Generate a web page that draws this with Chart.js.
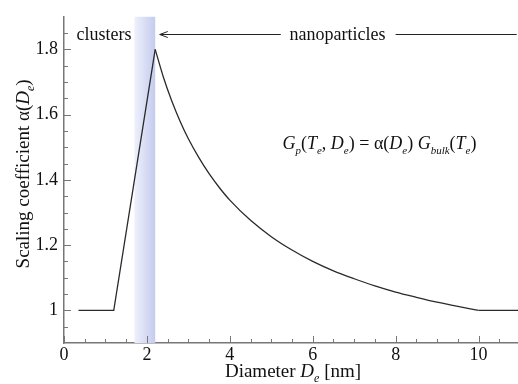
<!DOCTYPE html>
<html>
<head>
<meta charset="utf-8">
<script src="https://cdn.jsdelivr.net/npm/chart.js@4"></script>
<style>
  html, body { margin: 0; padding: 0; background: #fff; overflow: hidden; }
  #wrap { width: 522px; height: 384px; }
</style>
</head>
<body>
<div id="wrap"><canvas id="chart"></canvas></div>
<script>
// ticks
const xTicks = [0, 2, 4, 6, 8, 10];
const yTicks = [1, 1.2, 1.4, 1.6, 1.8];

// clusters part: flat then linear rise
const riseX = [0.35, 1.2, 2.2];
const riseY = [1, 1, 1.8];

// nanoparticles part: decay
const decayX = [2.2, 2.4, 2.6, 2.8, 3.0, 3.25, 3.5, 3.75, 4.0, 4.5, 5.0, 5.5, 6.0, 6.5, 7.0, 7.5, 8.0, 8.5, 9.0, 9.5, 10.0];
const decayY = [1.800, 1.714, 1.642, 1.580, 1.526, 1.469, 1.419, 1.376, 1.338, 1.276, 1.226, 1.185, 1.150, 1.121, 1.097, 1.075, 1.056, 1.040, 1.025, 1.012, 1.0];

// flat tail
const tailX = [10, 11];
const tailY = [1, 1];

// shaded transition region
const band = [1.7, 2.2];

const FONT = "'Liberation Serif', 'DejaVu Serif', serif";

function pts(xs, ys) {
  return xs.map((x, i) => ({ x: x, y: ys[i] }));
}

// draws text made of pieces (italic, subscripts)
function drawRich(ctx, segs, x, y, size, align) {
  const subSize = Math.round(size * 0.62);
  const fontOf = s => (s.it ? 'italic ' : '') + (s.sub ? subSize : size) + 'px ' + FONT;
  let total = 0;
  segs.forEach(s => { ctx.font = fontOf(s); total += ctx.measureText(s.t).width; });
  let cx = align === 'center' ? x - total / 2 : x;
  ctx.textAlign = 'left';
  ctx.textBaseline = 'alphabetic';
  segs.forEach(s => {
    ctx.font = fontOf(s);
    ctx.fillText(s.t, cx, s.sub ? y + size * 0.28 : y);
    cx += ctx.measureText(s.t).width;
  });
}

const decorPlugin = {
  id: 'decor',
  beforeDatasetsDraw(chart) {
    const { ctx, chartArea, scales } = chart;
    const x1 = scales.x.getPixelForValue(band[0]);
    const x2 = scales.x.getPixelForValue(band[1]);
    const g = ctx.createLinearGradient(x1, 0, x2, 0);
    g.addColorStop(0, '#eef0fb');
    g.addColorStop(1, '#c4ccef');
    ctx.save();
    ctx.fillStyle = g;
    ctx.fillRect(x1, chartArea.top, x2 - x1, chartArea.bottom - chartArea.top);
    ctx.restore();
  },
  afterDatasetsDraw(chart) {
    const { ctx, chartArea, scales } = chart;
    const xs = scales.x, ys = scales.y;
    ctx.save();

    // inward tick marks
    ctx.strokeStyle = '#777';
    ctx.lineWidth = 1;
    ctx.beginPath();
    for (let v = 0; v <= 11.001; v += 0.5) {
      const px = Math.round(xs.getPixelForValue(v)) + 0.5;
      const len = xTicks.includes(Math.round(v * 10) / 10) ? 7 : 4;
      ctx.moveTo(px, chartArea.bottom);
      ctx.lineTo(px, chartArea.bottom - len);
    }
    for (let v = 0.95; v <= 1.9; v += 0.05) {
      const py = Math.round(ys.getPixelForValue(v)) + 0.5;
      const major = yTicks.some(t => Math.abs(t - v) < 1e-6);
      ctx.moveTo(chartArea.left, py);
      ctx.lineTo(chartArea.left + (major ? 7 : 4), py);
    }
    ctx.stroke();

    // region labels
    ctx.fillStyle = '#111';
    ctx.font = '18px ' + FONT;
    ctx.textBaseline = 'alphabetic';
    ctx.textAlign = 'left';
    ctx.fillText('clusters', xs.getPixelForValue(0.3), ys.getPixelForValue(1.83));
    ctx.textAlign = 'center';
    ctx.fillText('nanoparticles', xs.getPixelForValue(6.6), ys.getPixelForValue(1.83));

    // arrow line
    const ay = Math.round(ys.getPixelForValue(1.847)) + 0.5;
    const tip = xs.getPixelForValue(2.31);
    ctx.strokeStyle = '#222';
    ctx.lineWidth = 1;
    ctx.beginPath();
    ctx.moveTo(tip, ay);
    ctx.lineTo(xs.getPixelForValue(5.23), ay);
    ctx.moveTo(tip + 8, ay - 3);
    ctx.lineTo(tip, ay);
    ctx.lineTo(tip + 8, ay + 3);
    ctx.moveTo(xs.getPixelForValue(8.0), ay);
    ctx.lineTo(xs.getPixelForValue(10.92), ay);
    ctx.stroke();

    // formula
    drawRich(ctx, [
      { t: 'G', it: 1 }, { t: 'p', it: 1, sub: 1 }, { t: '(' }, { t: 'T', it: 1 }, { t: 'e', it: 1, sub: 1 },
      { t: ', ' }, { t: 'D', it: 1 }, { t: 'e', it: 1, sub: 1 }, { t: ') = α(' }, { t: 'D', it: 1 },
      { t: 'e', it: 1, sub: 1 }, { t: ') ' }, { t: 'G', it: 1 }, { t: 'bulk', it: 1, sub: 1 }, { t: '(' },
      { t: 'T', it: 1 }, { t: 'e', it: 1, sub: 1 }, { t: ')' }
    ], xs.getPixelForValue(5.27), ys.getPixelForValue(1.495), 18, 'left');

    // axis titles
    drawRich(ctx, [{ t: 'Diameter ' }, { t: 'D', it: 1 }, { t: 'e', it: 1, sub: 1 }, { t: ' [nm]' }],
      (chartArea.left + chartArea.right) / 2 + 1, 377, 19, 'center');
    ctx.translate(29, (chartArea.top + chartArea.bottom) / 2 - 6);
    ctx.rotate(-Math.PI / 2);
    drawRich(ctx, [{ t: 'Scaling coefficient α(' }, { t: 'D', it: 1 }, { t: 'e', it: 1, sub: 1 }, { t: ')' }],
      0, 0, 19, 'center');
    ctx.restore();
  }
};

const curve = { borderColor: '#2a2a2a', borderWidth: 1.3, pointRadius: 0, fill: false, tension: 0 };

new Chart(document.getElementById('chart'), {
  type: 'line',
  data: {
    datasets: [
      Object.assign({ data: pts(riseX, riseY) }, curve),
      Object.assign({ data: pts(decayX, decayY), cubicInterpolationMode: 'monotone' }, curve),
      Object.assign({ data: pts(tailX, tailY) }, curve)
    ]
  },
  options: {
    responsive: true,
    maintainAspectRatio: false,
    animation: false,
    events: [],
    layout: { padding: { top: 13, right: 2, left: 0, bottom: 0 } },
    plugins: { legend: { display: false }, tooltip: { enabled: false } },
    scales: {
      x: {
        type: 'linear',
        min: 0,
        max: 11,
        afterFit: s => { s.height = 41; },
        afterBuildTicks: s => { s.ticks = xTicks.map(v => ({ value: v })); },
        grid: { display: false, drawTicks: false },
        border: { display: true, color: '#777', width: 1.5 },
        ticks: { padding: 1, color: '#111', font: { family: FONT, size: 18 }, maxRotation: 0, callback: v => String(v) }
      },
      y: {
        type: 'linear',
        min: 0.9,
        max: 1.9,
        afterFit: s => { s.width = 64; },
        afterBuildTicks: s => { s.ticks = yTicks.map(v => ({ value: v })); },
        grid: { display: false, drawTicks: false },
        border: { display: true, color: '#777', width: 1.5 },
        ticks: { padding: 6, color: '#111', font: { family: FONT, size: 18 }, callback: v => String(Math.round(v * 10) / 10) }
      }
    }
  },
  plugins: [decorPlugin]
});
</script>
</body>
</html>
